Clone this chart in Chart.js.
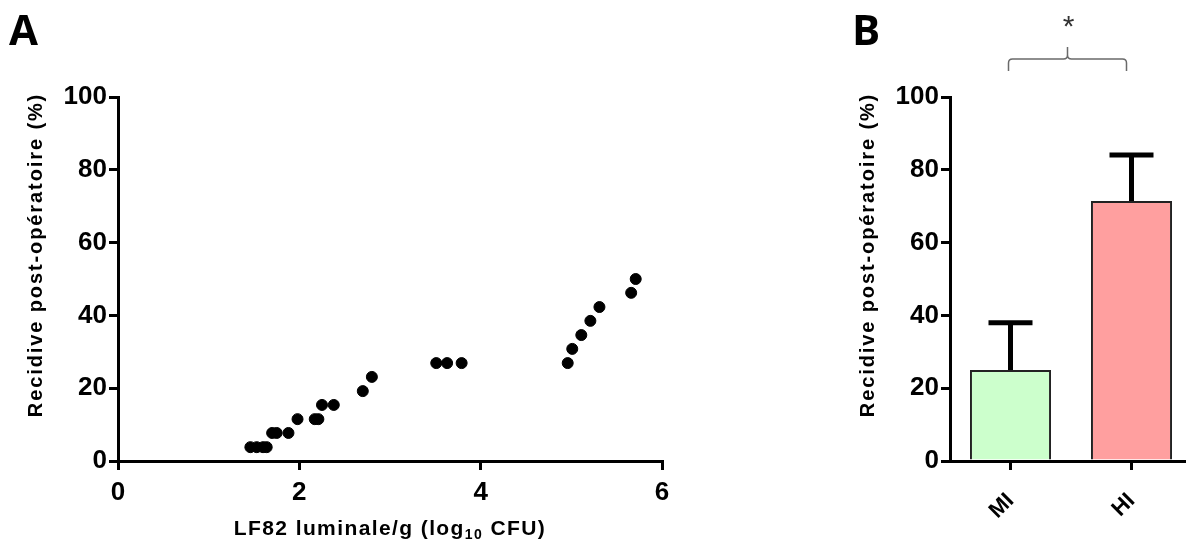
<!DOCTYPE html>
<html lang="fr">
<head>
    <meta charset="UTF-8">
    <title>Récidive post-opératoire et LF82</title>
    <style>
        html, body {
            margin: 0;
            padding: 0;
            background-color: white;
            overflow: hidden;
        }
        body {
            position: relative;
            width: 1186px;
            height: 540px;
        }
        #chartA { position: absolute; left: 0; top: 0; }
        #chartB { position: absolute; left: 760px; top: 0; }
    </style>
</head>
<body>
    <canvas id="chartA" width="700" height="540"></canvas>
    <canvas id="chartB" width="440" height="540"></canvas>

    <script src="https://cdn.jsdelivr.net/npm/chart.js"></script>
    <script>
        // Panel A: luminal LF82 load vs post-op recurrence
        const lf82Log = [1.46, 1.53, 1.60, 1.64, 1.70, 1.75, 1.88, 1.98, 2.17, 2.21, 2.25, 2.38,
                         2.70, 2.80, 3.51, 3.63, 3.79, 4.96, 5.01, 5.11, 5.21, 5.31, 5.66, 5.71];
        const recurrencePct = [3.8, 3.8, 3.8, 3.8, 7.7, 7.7, 7.7, 11.5, 11.5, 11.5, 15.4, 15.4,
                               19.2, 23.1, 26.9, 26.9, 26.9, 26.9, 30.8, 34.6, 38.5, 42.3, 46.2, 50.0];
        const xTicksA = [0, 2, 4, 6];

        // Panel B: groups MI / HI, mean + SEM
        const groups = ['MI', 'HI'];
        const meanPct = [25, 71.4];
        const semPct = [13, 12.7];

        const yTicks = [0, 20, 40, 60, 80, 100];
        const yTitle = 'Recidive post-opératoire (%)';

        const FAMILY = '"Liberation Sans", Arial, sans-serif';
        const tickFont = { family: FAMILY, weight: 'bold', size: 26 };

        function setTicks(list) {
            return scale => { scale.ticks = list.map(v => ({ value: v })); };
        }

        function yAxis() {
            return {
                min: 0,
                max: 100,
                afterBuildTicks: setTicks(yTicks),
                afterFit: s => { s.width = s.chart.canvas.id === 'chartA' ? 118 : 190; },
                ticks: { color: '#000', font: tickFont, padding: 2 },
                grid: { drawOnChartArea: false, drawTicks: true, tickLength: 9, color: '#000', lineWidth: 3 },
                border: { color: '#000', width: 3 }
            };
        }

        // rotated y title + panel letter
        const decorations = {
            id: 'decorations',
            afterDraw(chart, args, opts) {
                const ctx = chart.ctx;
                const area = chart.chartArea;
                ctx.save();
                ctx.fillStyle = '#000';
                ctx.font = 'bold 20px ' + FAMILY;
                ctx.letterSpacing = '1.9px';
                ctx.textAlign = 'center';
                ctx.textBaseline = 'middle';
                ctx.translate(area.left - 82, 255);
                ctx.rotate(-Math.PI / 2);
                ctx.fillText(yTitle, 0, 0);
                ctx.restore();

                ctx.save();
                ctx.fillStyle = '#000';
                ctx.font = 'bold 42px "Open Sans", sans-serif';
                ctx.textBaseline = 'alphabetic';
                ctx.fillText(opts.letter, opts.letterX, 45);
                ctx.restore();
            }
        };

        // x title with subscript for panel A
        const xTitleA = {
            id: 'xTitleA',
            afterDraw(chart) {
                const ctx = chart.ctx;
                const cx = (chart.chartArea.left + chart.chartArea.right) / 2;
                const parts = [
                    { t: 'LF82 luminale/g (log', size: 21, dy: 0 },
                    { t: '10', size: 14, dy: 4 },
                    { t: ' CFU)', size: 21, dy: 0 }
                ];
                ctx.save();
                ctx.fillStyle = '#000';
                ctx.letterSpacing = '1.4px';
                ctx.textBaseline = 'alphabetic';
                let total = 0;
                parts.forEach(p => {
                    ctx.font = 'bold ' + p.size + 'px ' + FAMILY;
                    p.w = ctx.measureText(p.t).width;
                    total += p.w;
                });
                let x = cx - total / 2;
                parts.forEach(p => {
                    ctx.font = 'bold ' + p.size + 'px ' + FAMILY;
                    ctx.fillText(p.t, x, 535 + p.dy);
                    x += p.w;
                });
                ctx.restore();
            }
        };

        // error bars (upper only) + significance brace for panel B
        const errorBars = {
            id: 'errorBars',
            afterDatasetsDraw(chart) {
                const ctx = chart.ctx;
                const y = chart.scales.y;
                const bars = chart.getDatasetMeta(0).data;
                ctx.save();
                ctx.strokeStyle = '#000';
                ctx.lineWidth = 5;
                bars.forEach((bar, i) => {
                    const top = y.getPixelForValue(meanPct[i] + semPct[i]);
                    const base = y.getPixelForValue(meanPct[i]);
                    ctx.beginPath();
                    ctx.moveTo(bar.x, base);
                    ctx.lineTo(bar.x, top);
                    ctx.moveTo(bar.x - 22, top);
                    ctx.lineTo(bar.x + 22, top);
                    ctx.stroke();
                });

                // brace between the two groups
                const x1 = bars[0].x - 2;
                const x2 = bars[1].x - 5;
                const mid = (x1 + x2) / 2;
                ctx.strokeStyle = '#6a6a6a';
                ctx.lineWidth = 1.5;
                ctx.beginPath();
                ctx.moveTo(x1, 71);
                ctx.lineTo(x1, 63);
                ctx.quadraticCurveTo(x1, 59, x1 + 4, 59);
                ctx.lineTo(mid - 4, 59);
                ctx.quadraticCurveTo(mid, 59, mid, 55);
                ctx.lineTo(mid, 47);
                ctx.moveTo(mid, 55);
                ctx.quadraticCurveTo(mid, 59, mid + 4, 59);
                ctx.lineTo(x2 - 4, 59);
                ctx.quadraticCurveTo(x2, 59, x2, 63);
                ctx.lineTo(x2, 71);
                ctx.stroke();

                ctx.fillStyle = '#333';
                ctx.font = '30px ' + FAMILY;
                ctx.textAlign = 'center';
                ctx.textBaseline = 'alphabetic';
                ctx.fillText('*', mid + 1, 36);
                ctx.restore();
            }
        };

        new Chart(document.getElementById('chartA'), {
            type: 'scatter',
            data: {
                datasets: [{
                    data: lf82Log.map((v, i) => ({ x: v, y: recurrencePct[i] })),
                    backgroundColor: '#000',
                    borderColor: '#000',
                    pointRadius: 5.5,
                    pointHoverRadius: 5.5
                }]
            },
            options: {
                responsive: false,
                animation: false,
                layout: { padding: { left: 0, top: 97, right: 38, bottom: 0 } },
                plugins: {
                    legend: { display: false },
                    tooltip: { enabled: false },
                    decorations: { letter: 'A', letterX: 9 }
                },
                scales: {
                    x: {
                        type: 'linear',
                        min: 0,
                        max: 6,
                        afterBuildTicks: setTicks(xTicksA),
                        afterFit: s => { s.height = 79; },
                        ticks: { color: '#000', font: tickFont, padding: 7 },
                        grid: { drawOnChartArea: false, drawTicks: true, tickLength: 9, color: '#000', lineWidth: 3 },
                        border: { color: '#000', width: 3 }
                    },
                    y: yAxis()
                }
            },
            plugins: [decorations, xTitleA]
        });

        new Chart(document.getElementById('chartB'), {
            type: 'bar',
            data: {
                labels: groups,
                datasets: [{
                    data: meanPct,
                    backgroundColor: ['#ccffcc', '#ff9f9f'],
                    borderColor: '#222',
                    borderWidth: 2,
                    barPercentage: 0.67,
                    categoryPercentage: 1
                }]
            },
            options: {
                responsive: false,
                animation: false,
                layout: { padding: { left: 0, top: 97, right: 8, bottom: 0 } },
                plugins: {
                    legend: { display: false },
                    tooltip: { enabled: false },
                    decorations: { letter: 'B', letterX: 92 }
                },
                scales: {
                    x: {
                        afterFit: s => { s.height = 79; },
                        ticks: { color: '#000', font: { family: FAMILY, weight: 'bold', size: 22 }, minRotation: 45, maxRotation: 45, padding: 18 },
                        grid: { offset: false, drawOnChartArea: false, drawTicks: true, tickLength: 9, color: '#000', lineWidth: 3 },
                        border: { color: '#000', width: 3 }
                    },
                    y: yAxis()
                }
            },
            plugins: [decorations, errorBars]
        });
    </script>
</body>
</html>
